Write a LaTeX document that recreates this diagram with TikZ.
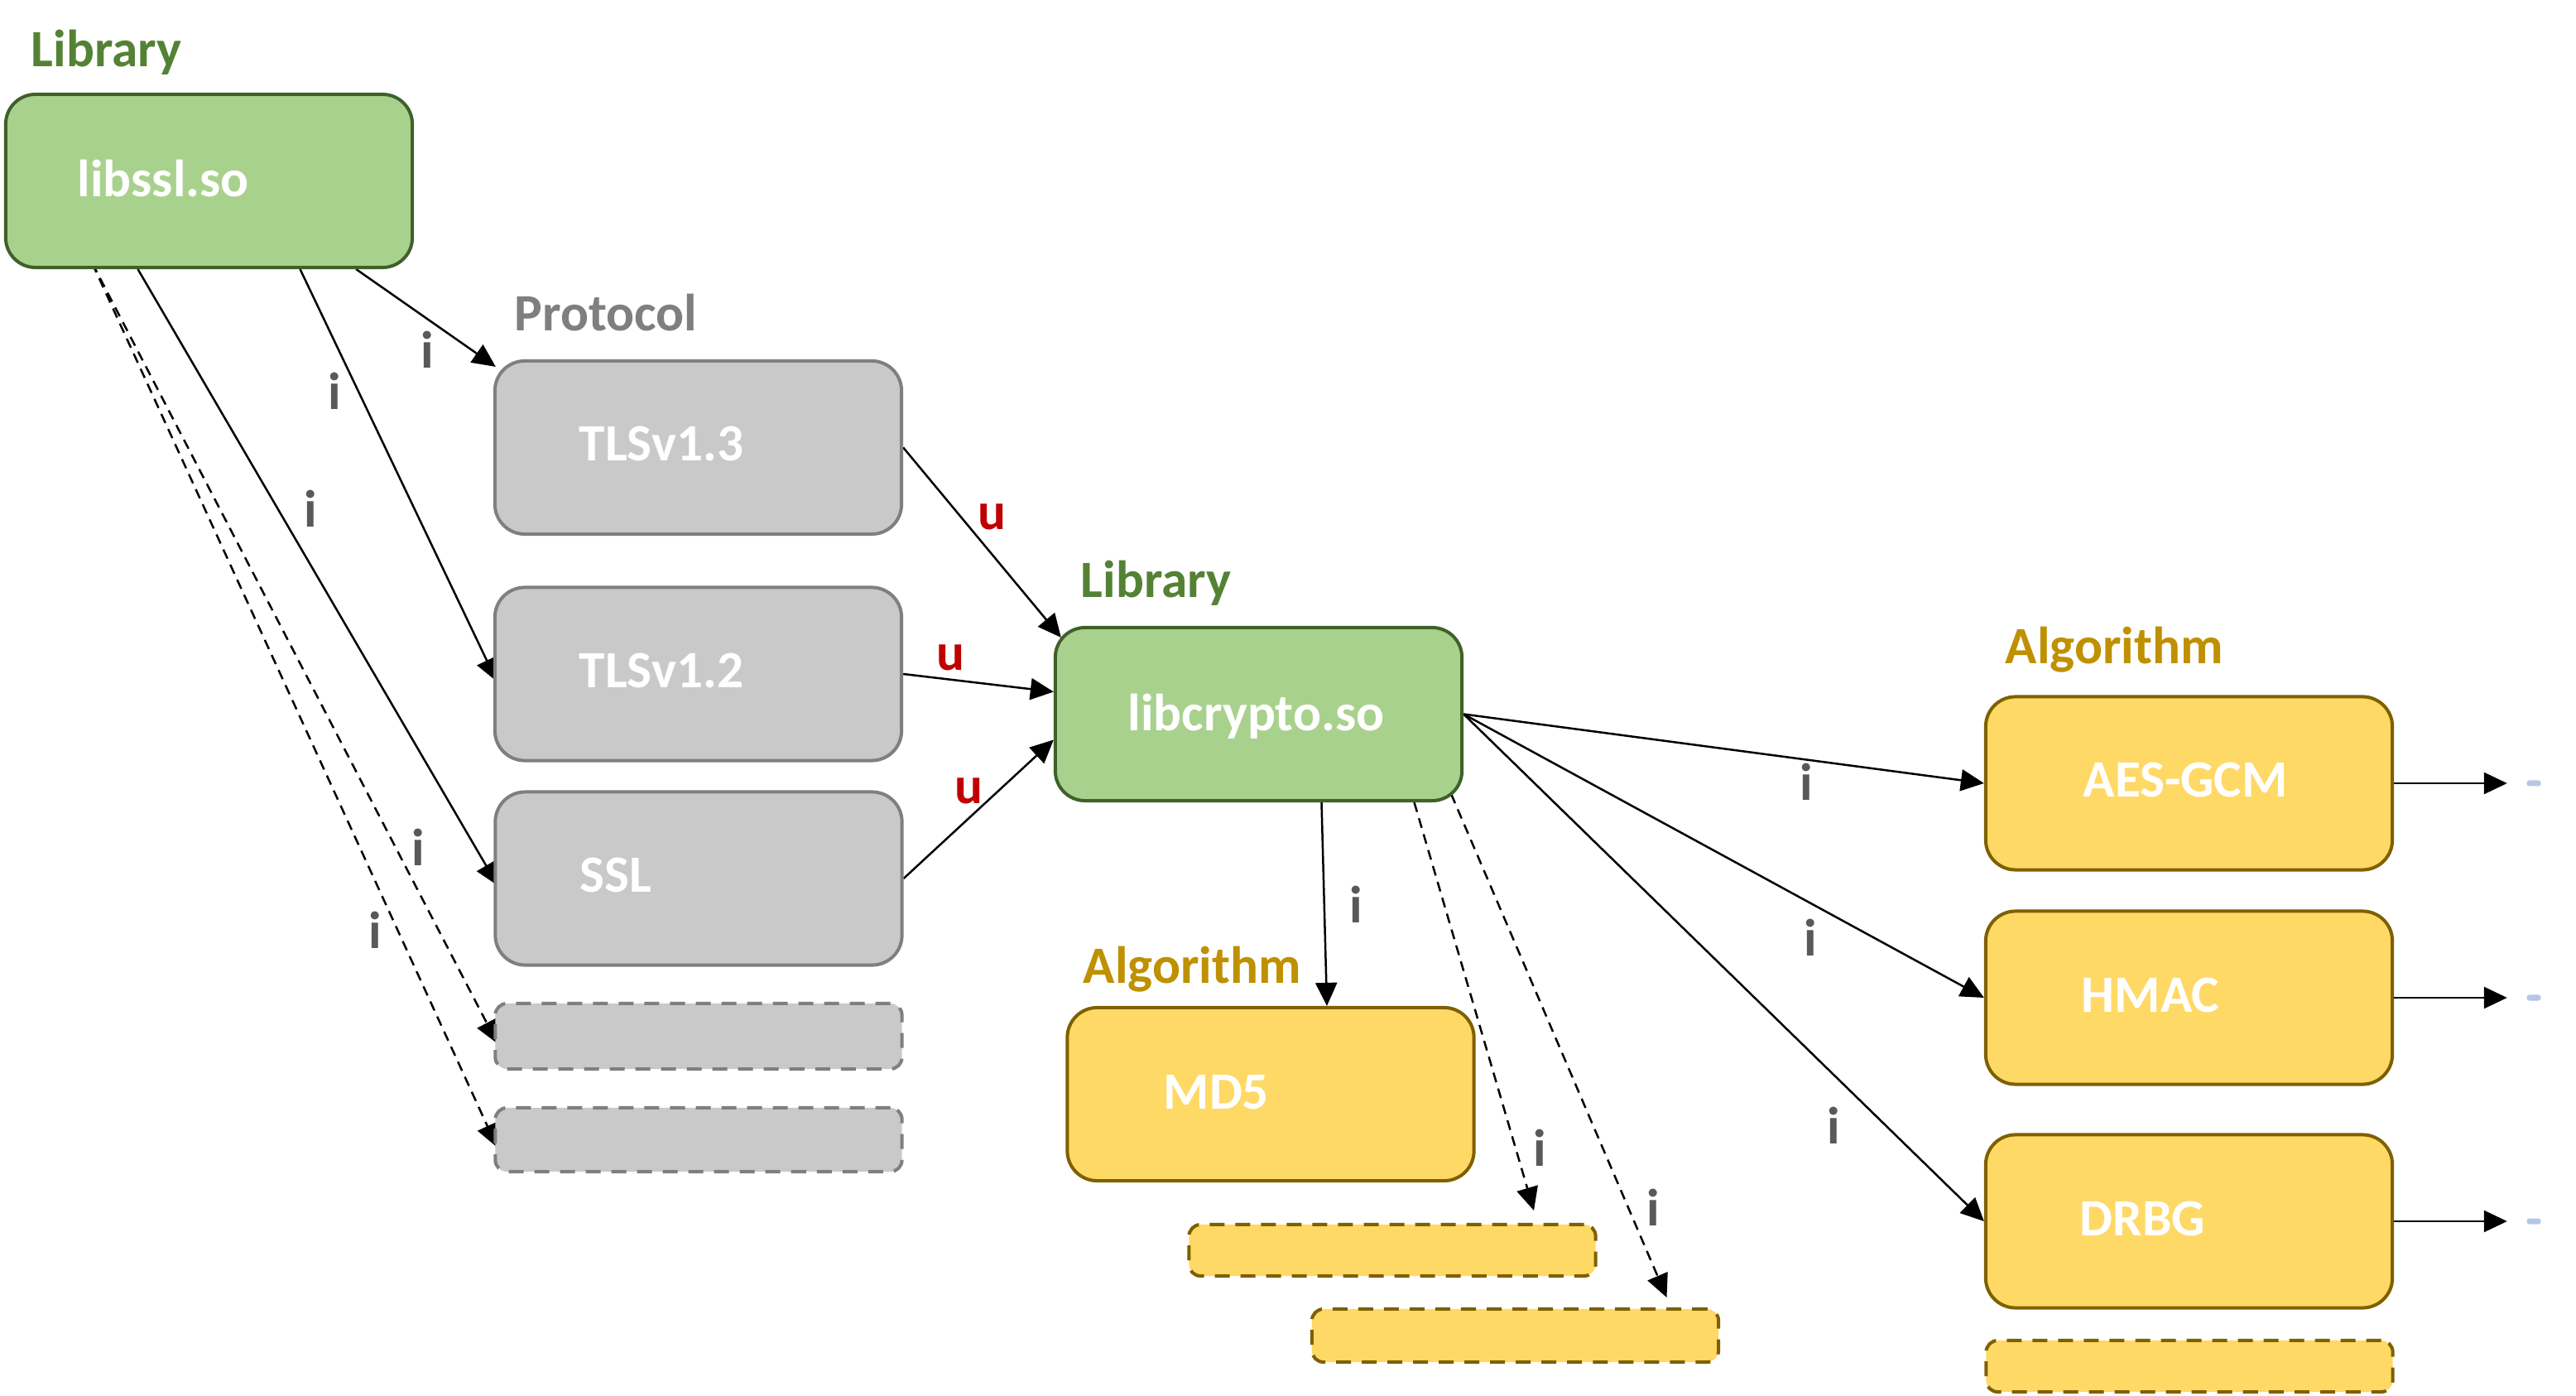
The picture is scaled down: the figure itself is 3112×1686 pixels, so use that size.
\documentclass[tikz,border=0pt]{standalone}
\usepackage{fontspec}
\setmainfont{Carlito}
\usetikzlibrary{arrows.meta,calc,backgrounds}
\definecolor{gfill}{HTML}{A9D18E}
\definecolor{gline}{HTML}{3F6129}
\definecolor{gtext}{HTML}{548235}
\definecolor{pfill}{HTML}{C9C9C9}
\definecolor{pline}{HTML}{7F7F7F}
\definecolor{yfill}{HTML}{FFD966}
\definecolor{yline}{HTML}{7F6000}
\definecolor{ytext}{HTML}{BF9000}
\definecolor{ilab}{HTML}{595959}
\definecolor{ulab}{HTML}{C00000}
\definecolor{bdash}{HTML}{B4C7E7}
\begin{document}
\begin{tikzpicture}[x=0.01cm,y=-0.01cm,
 font=\fontsize{18}{22}\selectfont\bfseries,
 box/.style={rectangle, rounded corners=0.36cm, line width=0.04cm, minimum width=4.91cm, minimum height=2.09cm, inner sep=0pt},
 libbox/.style={box, fill=gfill, draw=gline},
 protbox/.style={box, fill=pfill, draw=pline},
 algbox/.style={box, fill=yfill, draw=yline},
 ghost/.style={rounded corners=0.14cm, dash pattern=on 0.18cm off 0.13cm},
 boxtext/.style={anchor=base west, text=white, inner sep=0pt},
 cat/.style={anchor=base west, inner sep=0pt},
 ilabel/.style={anchor=base, text=ilab, inner sep=0pt},
 ulabel/.style={anchor=base, text=ulab, inner sep=0pt},
 conn/.style={line width=0.025cm, -{Triangle[length=0.28cm,width=0.26cm]}},
 dconn/.style={conn, dash pattern=on 0.12cm off 0.08cm},
 bluedash/.style={rectangle, fill=bdash, rounded corners=0.03cm, minimum width=0.17cm, minimum height=0.07cm, inner sep=0pt},
]
\useasboundingbox (0,0) rectangle (3112,1686);

% category labels
\node[cat, text=gtext] (catlib1) at (37,81) {Library};
\node[cat, text=pline] (catprot) at (621,400) {Protocol};
\node[cat, text=gtext] (catlib2) at (1305,722) {Library};
\node[cat, text=ytext] (catalg1) at (1308,1188) {Algorithm};
\node[cat, text=ytext] (catalg2) at (2422,802) {Algorithm};

% boxes
\node[libbox] (libssl) at (252.5,218.5) {};
\node[protbox] (tls13) at (843.5,540.5) {};
\node[protbox] (tls12) at (843.5,814) {};
\node[protbox] (ssl) at (844,1061) {};
\node[protbox, ghost, minimum height=0.79cm] (gray1) at (844,1251.5) {};
\node[protbox, ghost, minimum height=0.77cm] (gray2) at (844,1376.5) {};
\node[libbox] (libcrypto) at (1520.5,862.5) {};
\node[algbox] (md5) at (1535,1321.5) {};
\node[algbox, ghost, minimum height=0.62cm] (y1) at (1682,1510) {};
\node[algbox, ghost, minimum height=0.64cm] (y2) at (1830.5,1613) {};
\node[algbox] (aes) at (2644.5,946) {};
\node[algbox] (hmac) at (2644.5,1205) {};
\node[algbox] (drbg) at (2644.5,1475) {};
\node[algbox, ghost, minimum height=0.62cm] (y3) at (2645,1650) {};
\node[bluedash] (b1) at (3061,946) {};
\node[bluedash] (b2) at (3061,1205) {};
\node[bluedash] (b3) at (3061,1475) {};

% box texts
\node[boxtext] (tlibssl) at (93,238) {libssl.so};
\node[boxtext] (ttls13) at (699,557) {TLSv1.3};
\node[boxtext] (ttls12) at (699,831) {TLSv1.2};
\node[boxtext] (tssl) at (700,1078) {SSL};
\node[boxtext] (tlibcrypto) at (1362,883) {libcrypto.so};
\node[boxtext] (tmd5) at (1405,1340) {MD5};
\node[boxtext] (taes) at (2516,963) {AES-GCM};
\node[boxtext] (thmac) at (2514,1222) {HMAC};
\node[boxtext] (tdrbg) at (2512,1492) {DRBG};

% connector labels
\node[ilabel] (l1) at (516,445) {i};
\node[ilabel] (l2) at (404,495) {i};
\node[ilabel] (l3) at (375,637) {i};
\node[ilabel] (l4) at (505,1046) {i};
\node[ilabel] (l5) at (453,1146) {i};
\node[ulabel] (l6) at (1198,640) {u};
\node[ulabel] (l7) at (1148,810) {u};
\node[ulabel] (l8) at (1170,971) {u};
\node[ilabel] (l9) at (1638,1115) {i};
\node[ilabel] (l10) at (1860,1408) {i};
\node[ilabel] (l11) at (1997,1480) {i};
\node[ilabel] (l12) at (2182,967) {i};
\node[ilabel] (l13) at (2187,1155) {i};
\node[ilabel] (l14) at (2215,1381) {i};

\begin{pgfonlayer}{background}
\fill[white] (0,0) rectangle (3112,1686);
\draw[conn] ($(libssl.south east)+(-70,0)$) -- ($(tls13.north west)+(3,9)$);
\draw[conn, shorten >=-0.1cm] ($(libssl.south)+(110,0)$) -- (tls12.west);
\draw[conn, shorten >=-0.1cm] ($(libssl.south)+(-86,0)$) -- (ssl.west);
\draw[dconn, shorten >=-0.1cm] ($(libssl.south)+(-141,-7)$) -- (gray1.west);
\draw[dconn, shorten >=-0.1cm] ($(libssl.south)+(-141,-7)$) -- (gray2.west);
\draw[conn] (tls13.east) -- ($(libcrypto.north west)+(9,14)$);
\draw[conn] (tls12.east) -- ($(libcrypto.west)+(0,-27)$);
\draw[conn] (ssl.east) -- ($(libcrypto.west)+(0,31)$);
\draw[conn] ($(libcrypto.south)+(76,0)$) -- ($(md5.north)+(68,0)$);
\draw[dconn] ($(libcrypto.south)+(188,0)$) -- ($(y1.north)+(171,-15)$);
\draw[dconn] ($(libcrypto.south east)+(-15,-10)$) -- ($(y2.north)+(183,-12)$);
\draw[conn] (libcrypto.east) -- (aes.west);
\draw[conn] (libcrypto.east) -- (hmac.west);
\draw[conn] (libcrypto.east) -- (drbg.west);
\draw[conn, shorten >=0.23cm] (aes.east) -- (b1.west);
\draw[conn, shorten >=0.23cm] (hmac.east) -- (b2.west);
\draw[conn, shorten >=0.23cm] (drbg.east) -- (b3.west);
\end{pgfonlayer}
\end{tikzpicture}
\end{document}
